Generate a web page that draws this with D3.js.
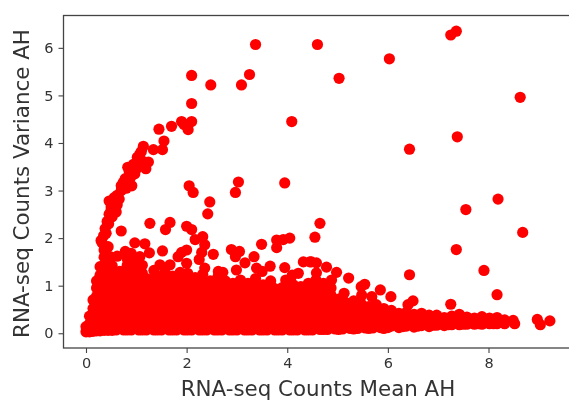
<!DOCTYPE html>
<html>
<head>
<meta charset="utf-8">
<script src="https://cdn.jsdelivr.net/npm/d3@7"></script>
<style>
  html, body { margin: 0; padding: 0; background: #fff; overflow: hidden; }
  text { font-family: "DejaVu Sans", sans-serif; fill: #333; }
</style>
</head>
<body>
<script>
// values
var xTicks = [0, 2, 4, 6, 8];
var yTicks = [0, 1, 2, 3, 4, 5, 6];
var xLabel = "RNA-seq Counts Mean AH";
var yLabel = "RNA-seq Counts Variance AH";

// points that stand clear of the mass, top right of the plot
var farMean = [3.37, 4.6, 2.1, 2.48, 3.09, 3.25, 2.1, 4.09, 5.03, 6.03, 7.25, 7.36, 8.63, 7.38, 6.43, 8.19, 7.55, 8.68, 7.36, 7.91, 6.43, 8.17, 7.25, 8.97, 9.03, 9.22, 8.52, 8.49];
var farVar = [6.07, 6.07, 5.42, 5.22, 5.22, 5.44, 4.83, 4.45, 5.36, 5.77, 6.27, 6.35, 4.96, 4.13, 3.87, 2.82, 2.6, 2.12, 1.76, 1.32, 1.23, 0.81, 0.61, 0.29, 0.18, 0.26, 0.2, 0.27];

// the curved ridge going up from the origin
var ridgeMean = [2.1, 1.9, 2.03, 1.95, 1.7, 1.45, 1.55, 1.52, 1.34, 1.14, 1.07, 1.24, 1.19, 0.83, 1.04, 0.97, 0.91, 0.74, 0.7, 0.46, 0.66, 1.1, 1.0, 0.9, 0.85, 0.8, 0.62, 0.58, 0.55, 0.5, 0.46, 0.42, 0.38, 0.35, 0.32, 0.3, 0.36, 0.6, 0.52, 0.45, 0.4, 0.62, 0.56, 0.5, 1.02, 0.94, 0.86, 0.78, 0.7, 1.12];
var ridgeVar = [4.45, 4.45, 4.28, 4.39, 4.35, 4.29, 4.04, 3.86, 3.86, 3.93, 3.77, 3.6, 3.46, 3.49, 3.56, 3.35, 3.1, 3.17, 3.0, 2.78, 2.82, 3.82, 3.45, 3.3, 3.2, 3.05, 2.9, 2.72, 2.6, 2.66, 2.5, 2.35, 2.2, 2.05, 1.9, 1.95, 1.75, 2.55, 2.45, 2.3, 2.1, 2.7, 2.85, 2.6, 3.7, 3.55, 3.4, 3.25, 3.1, 3.62];

// scattered points above the solid part
var upperMean = [2.05, 2.13, 2.97, 3.03, 3.95, 2.46, 2.42, 0.7, 1.27, 1.58, 1.67, 2.0, 2.1, 2.17, 2.32, 4.65, 4.55, 4.05, 3.92, 3.79, 3.79, 3.49, 0.97, 1.17, 1.26, 1.52, 2.0, 2.36, 2.53, 2.25, 2.89, 3.05, 2.97, 3.16, 3.34, 3.39, 3.66, 3.95, 4.22, 4.32, 4.48, 2.99, 2.63, 2.36, 1.83, 1.47, 1.67, 2.0, 0.78, 1.07, 0.48, 0.44, 4.78, 4.98, 5.22, 5.54, 5.47, 5.48, 5.68, 5.85, 6.06, 6.5, 6.4, 5.13, 4.58, 4.45, 4.58, 4.88, 1.9, 2.3, 1.35, 2.72, 3.5, 4.1, 0.62, 0.9];
var upperVar = [3.1, 2.96, 2.96, 3.18, 3.16, 2.76, 2.51, 2.15, 2.31, 2.18, 2.33, 2.25, 2.18, 1.97, 2.03, 2.31, 2.02, 2.0, 1.97, 1.96, 1.8, 1.87, 1.9, 1.88, 1.69, 1.73, 1.75, 1.86, 1.66, 1.55, 1.76, 1.72, 1.61, 1.48, 1.61, 1.37, 1.41, 1.38, 1.26, 1.5, 1.5, 1.33, 1.3, 1.37, 1.61, 1.44, 1.44, 1.47, 1.72, 1.61, 1.61, 1.82, 1.39, 1.28, 1.16, 1.03, 0.98, 0.8, 0.77, 0.91, 0.77, 0.68, 0.6, 0.84, 1.48, 1.5, 1.27, 1.12, 1.7, 1.7, 1.32, 1.28, 1.3, 1.22, 1.62, 1.68];

// the solid mass, column by column: one mean, the variances seen at that mean
var massMean = [0.0, 0.07, 0.14, 0.21, 0.28, 0.36, 0.44, 0.52, 0.67, 0.82, 0.97, 1.12, 1.27, 1.42, 1.57, 1.72, 1.87, 2.02, 2.17, 2.32, 2.47, 2.62, 2.77, 2.92, 3.07, 3.22, 3.37, 3.52, 3.67, 3.82, 3.97, 4.12, 4.27, 4.42, 4.57, 4.72, 4.87, 5.02, 5.17, 5.32, 5.47, 5.62, 5.77, 5.92, 6.07, 6.22, 6.37, 6.52, 6.67, 6.82, 6.97, 7.12, 7.27, 7.42, 7.57, 7.72, 7.87, 8.02, 8.17, 8.32];
var massVar = [
  [0.03, 0.14],
  [0.03, 0.2, 0.36],
  [0.04, 0.2, 0.36, 0.52, 0.7],
  [0.05, 0.27, 0.44, 0.61, 0.78, 0.95, 1.1],
  [0.05, 0.2, 0.37, 0.54, 0.71, 0.88, 1.05, 1.22, 1.4],
  [0.06, 0.24, 0.41, 0.58, 0.75, 0.92, 1.09, 1.26, 1.43, 1.6],
  [0.06, 0.22, 0.39, 0.56, 0.73, 0.9, 1.07, 1.24, 1.41, 1.55],
  [0.06, 0.24, 0.41, 0.58, 0.75, 0.92, 1.09, 1.26, 1.42],
  [0.15, 0.32, 0.49, 0.66, 0.83, 1.0, 1.17, 1.3],
  [0.07, 0.24, 0.41, 0.58, 0.75, 0.92, 1.09, 1.26, 1.43, 1.56],
  [0.15, 0.32, 0.49, 0.66, 0.83, 1.0, 1.17, 1.34, 1.48],
  [0.07, 0.24, 0.41, 0.58, 0.75, 0.92, 1.09, 1.26, 1.43],
  [0.15, 0.32, 0.49, 0.66, 0.83, 1.0, 1.12],
  [0.07, 0.24, 0.41, 0.58, 0.75, 0.92, 1.09, 1.2],
  [0.15, 0.32, 0.49, 0.66, 0.83, 1.0, 1.17, 1.3],
  [0.07, 0.24, 0.41, 0.58, 0.75, 0.92, 1.09, 1.2],
  [0.15, 0.32, 0.49, 0.66, 0.83, 1.0, 1.17, 1.28],
  [0.07, 0.24, 0.41, 0.58, 0.75, 0.92, 1.09, 1.26],
  [0.15, 0.32, 0.49, 0.66, 0.83, 1.0, 1.17],
  [0.07, 0.24, 0.41, 0.58, 0.75, 0.92, 1.09, 1.24],
  [0.15, 0.32, 0.49, 0.66, 0.83, 1.0, 1.1],
  [0.07, 0.24, 0.41, 0.58, 0.75, 0.92, 1.09, 1.18],
  [0.15, 0.32, 0.49, 0.66, 0.83, 1.0, 1.1],
  [0.07, 0.24, 0.41, 0.58, 0.75, 0.92, 1.05],
  [0.15, 0.32, 0.49, 0.66, 0.83, 1.0, 1.12],
  [0.07, 0.24, 0.41, 0.58, 0.75, 0.92, 1.05],
  [0.15, 0.32, 0.49, 0.66, 0.83, 1.0, 1.15],
  [0.07, 0.24, 0.41, 0.58, 0.75, 0.92, 1.02],
  [0.15, 0.32, 0.49, 0.66, 0.83, 1.0, 1.1],
  [0.07, 0.24, 0.41, 0.58, 0.75, 0.9],
  [0.15, 0.32, 0.49, 0.66, 0.83, 1.0, 1.12],
  [0.07, 0.24, 0.41, 0.58, 0.75, 0.88, 1.02],
  [0.15, 0.32, 0.49, 0.66, 0.83, 0.98],
  [0.07, 0.24, 0.41, 0.58, 0.75, 0.92, 1.05],
  [0.15, 0.32, 0.49, 0.66, 0.83, 1.0, 1.12],
  [0.08, 0.24, 0.41, 0.58, 0.75, 0.92, 1.05],
  [0.15, 0.32, 0.49, 0.66, 0.8, 0.95],
  [0.08, 0.24, 0.41, 0.58, 0.72],
  [0.15, 0.32, 0.49, 0.64],
  [0.09, 0.24, 0.41, 0.58, 0.68],
  [0.15, 0.32, 0.49, 0.62],
  [0.1, 0.24, 0.41, 0.56],
  [0.15, 0.32, 0.49, 0.6],
  [0.1, 0.24, 0.41, 0.52],
  [0.15, 0.32, 0.48],
  [0.12, 0.26, 0.42],
  [0.15, 0.3, 0.44],
  [0.13, 0.26, 0.4],
  [0.16, 0.3, 0.42],
  [0.14, 0.26, 0.38],
  [0.17, 0.3, 0.38],
  [0.16, 0.25, 0.33],
  [0.18, 0.28, 0.36],
  [0.18, 0.28, 0.4],
  [0.19, 0.28, 0.34],
  [0.19, 0.27, 0.32],
  [0.19, 0.28, 0.35],
  [0.2, 0.27, 0.32],
  [0.2, 0.28, 0.33],
  [0.2, 0.28]
];

// more of the mass, the columns in between
var fillMean = [0.6, 0.75, 0.9, 1.05, 1.2, 1.35, 1.5, 1.65, 1.8, 1.95, 2.1, 2.25, 2.4, 2.55, 2.7, 2.85, 3.0, 3.15, 3.3, 3.45, 3.6, 3.75, 3.9, 4.05, 4.2, 4.35, 4.5, 4.65, 4.8, 4.95, 5.1, 5.25, 5.4, 5.55, 5.7, 5.85, 6.0, 6.3, 6.6, 6.9, 7.2, 7.5, 7.8, 8.1];
var fillVar = [
  [0.07, 0.3, 0.47, 0.64, 0.81, 0.98, 1.15],
  [0.07, 0.28, 0.45, 0.62, 0.79, 0.96, 1.13, 1.3],
  [0.07, 0.3, 0.47, 0.64, 0.81, 0.98, 1.15, 1.32],
  [0.07, 0.28, 0.45, 0.62, 0.79, 0.96, 1.13, 1.3],
  [0.07, 0.3, 0.47, 0.64, 0.81, 0.98, 1.15],
  [0.07, 0.28, 0.45, 0.62, 0.79, 0.96, 1.1],
  [0.07, 0.3, 0.47, 0.64, 0.81, 0.98, 1.15],
  [0.07, 0.28, 0.45, 0.62, 0.79, 0.96, 1.12],
  [0.07, 0.3, 0.47, 0.64, 0.81, 0.98, 1.15],
  [0.07, 0.28, 0.45, 0.62, 0.79, 0.96, 1.13],
  [0.07, 0.3, 0.47, 0.64, 0.81, 0.98, 1.12],
  [0.07, 0.28, 0.45, 0.62, 0.79, 0.96, 1.1],
  [0.07, 0.3, 0.47, 0.64, 0.81, 0.98],
  [0.07, 0.28, 0.45, 0.62, 0.79, 0.96, 1.08],
  [0.07, 0.3, 0.47, 0.64, 0.81, 0.98],
  [0.07, 0.28, 0.45, 0.62, 0.79, 0.96],
  [0.07, 0.3, 0.47, 0.64, 0.81, 0.98],
  [0.07, 0.28, 0.45, 0.62, 0.79, 0.96],
  [0.07, 0.3, 0.47, 0.64, 0.81, 0.98],
  [0.07, 0.28, 0.45, 0.62, 0.79, 0.95],
  [0.07, 0.3, 0.47, 0.64, 0.81, 0.96],
  [0.07, 0.28, 0.45, 0.62, 0.79, 0.94],
  [0.07, 0.3, 0.47, 0.64, 0.81, 0.96],
  [0.07, 0.28, 0.45, 0.62, 0.79, 0.92],
  [0.07, 0.3, 0.47, 0.64, 0.81, 0.93],
  [0.07, 0.28, 0.45, 0.62, 0.79, 0.96],
  [0.07, 0.3, 0.47, 0.64, 0.81, 0.98],
  [0.08, 0.28, 0.45, 0.62, 0.79, 0.94],
  [0.08, 0.3, 0.47, 0.64, 0.78],
  [0.09, 0.28, 0.45, 0.6],
  [0.09, 0.3, 0.47, 0.6],
  [0.1, 0.28, 0.45, 0.56],
  [0.1, 0.3, 0.47],
  [0.11, 0.28, 0.45, 0.54],
  [0.11, 0.3, 0.45],
  [0.12, 0.28, 0.42],
  [0.12, 0.3, 0.42],
  [0.14, 0.28, 0.38],
  [0.15, 0.28, 0.36],
  [0.17, 0.27, 0.34],
  [0.18, 0.28],
  [0.19, 0.28],
  [0.2, 0.3],
  [0.2, 0.29]
];

var svgWidth = 569;
var svgHeight = 401;

var x = d3.scaleLinear().domain([-0.457, 9.6]).range([63, 569]);
var y = d3.scaleLinear().domain([-0.31, 6.68]).range([348, 15.5]);

var svg = d3.select("body")
    .append("svg")
    .attr("width", svgWidth)
    .attr("height", svgHeight)
    .style("display", "block")
    .style("filter", "blur(0.4px)");

// put all the groups together as [mean, variance] pairs
var massPairs = massMean.flatMap((m, i) => massVar[i].map(v => [m, v]));
var fillPairs = fillMean.flatMap((m, i) => fillVar[i].map(v => [m, v]));
var upperPairs = upperMean.map((m, i) => [m, upperVar[i]]);
var ridgePairs = ridgeMean.map((m, i) => [m, ridgeVar[i]]);
var farPairs = farMean.map((m, i) => [m, farVar[i]]);
var points = massPairs.concat(fillPairs, upperPairs, ridgePairs, farPairs);

svg.append("g")
    .selectAll("circle")
    .data(points)
    .enter()
    .append("circle")
    .attr("cx", d => x(d[0]))
    .attr("cy", d => y(d[1]))
    .attr("r", 5.6)
    .attr("fill", "#ff0000");

// frame, the right side falls on the edge of the picture
svg.append("rect")
    .attr("x", 63.5)
    .attr("y", 15.5)
    .attr("width", 510)
    .attr("height", 332.5)
    .attr("fill", "none")
    .attr("stroke", "#444")
    .attr("stroke-width", 1.3);

var bottomAxis = d3.axisBottom(x).tickValues(xTicks).tickSize(5).tickPadding(5).tickFormat(d3.format("d"));
var leftAxis = d3.axisLeft(y).tickValues(yTicks).tickSize(5).tickPadding(5).tickFormat(d3.format("d"));

var xAxisGroup = svg.append("g").attr("transform", "translate(0, 348)").call(bottomAxis);
var yAxisGroup = svg.append("g").attr("transform", "translate(63.5, 0)").call(leftAxis);

[xAxisGroup, yAxisGroup].forEach(function (g) {
    g.select(".domain").remove();
    g.selectAll("line").attr("stroke", "#444").attr("stroke-width", 1.1);
    g.selectAll("text").attr("font-size", 14.5).style("font-family", "DejaVu Sans");
});

svg.append("text")
    .attr("x", 318)
    .attr("y", 395.5)
    .attr("text-anchor", "middle")
    .attr("font-size", 21.4)
    .text(xLabel);

svg.append("text")
    .attr("transform", "translate(29, 183.5) rotate(-90)")
    .attr("text-anchor", "middle")
    .attr("font-size", 21.4)
    .text(yLabel);
</script>
</body>
</html>
